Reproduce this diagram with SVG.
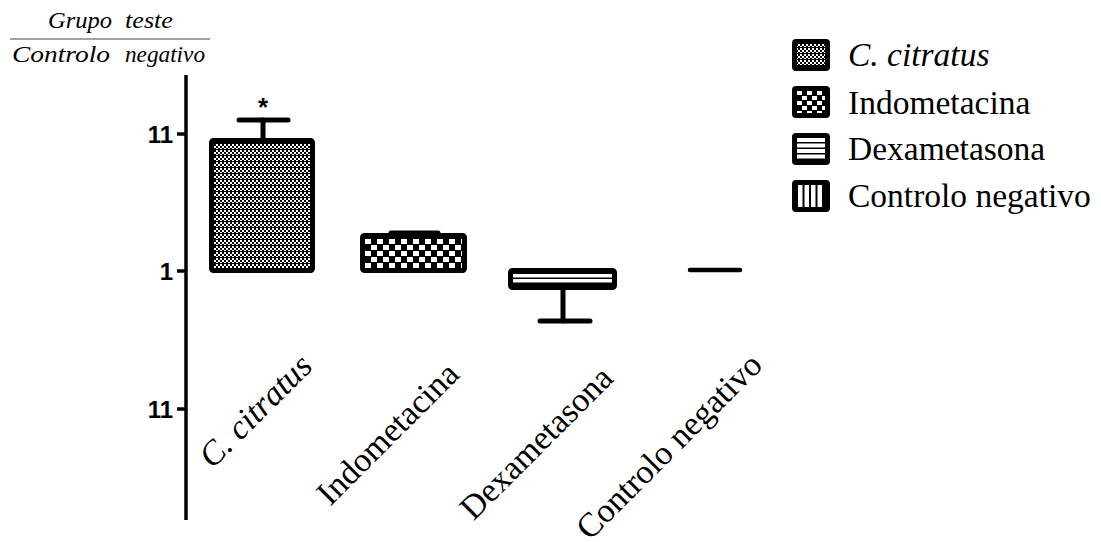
<svg xmlns="http://www.w3.org/2000/svg" width="1101" height="542" viewBox="0 0 1101 542">
  <style>
    .serif { font-family: "Liberation Serif", "Times New Roman", serif; fill: #000; }
    .it { font-style: italic; }
    .hd { font-size: 23px; }
    .tick { font-family: "Liberation Sans", Arial, sans-serif; font-weight: bold; font-size: 24px; text-anchor: end; fill: #000; }
    .leg { font-size: 33.5px; }
    .xl { font-size: 34px; text-anchor: end; }
    .bar { stroke: #000; stroke-width: 5; stroke-linejoin: round; }
    .err { stroke: #000; stroke-width: 5; stroke-linecap: round; fill: none; }
    .axis { stroke: #000; stroke-width: 3.5; fill: none; }
  </style>
  <defs>
    <pattern id="pFine" width="4" height="6" patternUnits="userSpaceOnUse">
      <rect width="4" height="6" fill="#000"/>
      <rect x="0" y="0" width="2" height="2" fill="#fff"/>
      <rect x="2" y="2" width="2" height="2" fill="#fff"/>
      <rect x="0" y="4" width="2" height="1" fill="#fff"/>
    </pattern>
    <pattern id="pCheck" x="365" y="238" width="12" height="12" patternUnits="userSpaceOnUse">
      <rect width="12" height="12" fill="#000"/>
      <rect x="0" y="1" width="6" height="5" fill="#fff"/>
      <rect x="6" y="7" width="6" height="5" fill="#fff"/>
    </pattern>
    <pattern id="pCheckL" x="797" y="91" width="10" height="10" patternUnits="userSpaceOnUse">
      <rect width="10" height="10" fill="#000"/>
      <rect x="0" y="0" width="5" height="4" fill="#fff"/>
      <rect x="5" y="5" width="5" height="4" fill="#fff"/>
    </pattern>
  </defs>

  <!-- header -->
  <g id="header">
    <text class="serif it hd" y="28"><tspan x="48" textLength="64" lengthAdjust="spacingAndGlyphs">Grupo</tspan> <tspan x="125" textLength="48" lengthAdjust="spacingAndGlyphs">teste</tspan></text>
    <line x1="10" y1="39" x2="210" y2="39" stroke="#444" stroke-width="1.2"/>
    <text class="serif it hd" y="62"><tspan x="12" textLength="98" lengthAdjust="spacingAndGlyphs">Controlo</tspan> <tspan x="125" textLength="80" lengthAdjust="spacingAndGlyphs">negativo</tspan></text>
  </g>

  <!-- axis -->
  <g id="axis">
    <line class="axis" x1="186" y1="75" x2="186" y2="520"/>
    <line class="axis" x1="177" y1="134" x2="186" y2="134"/>
    <line class="axis" x1="177" y1="271" x2="186" y2="271"/>
    <line class="axis" x1="177" y1="409" x2="186" y2="409"/>
    <text class="tick" x="173" y="143">11</text>
    <text class="tick" x="173" y="280">1</text>
    <text class="tick" x="173" y="418">11</text>
  </g>

  <!-- bars -->
  <g id="bar-ccitratus">
    <line class="err" x1="263" y1="140" x2="263" y2="120"/>
    <line class="err" x1="239" y1="120" x2="288" y2="120"/>
    <rect class="bar" x="211.5" y="140.5" width="101" height="130" rx="2" fill="url(#pFine)"/>
    <text x="263" y="116" font-family="Liberation Sans, Arial, sans-serif" font-weight="bold" font-size="26" text-anchor="middle">*</text>
  </g>
  <g id="bar-indometacina">
    <line class="err" x1="391" y1="233" x2="438" y2="233"/>
    <rect class="bar" x="362.5" y="235.5" width="102" height="35" rx="2" fill="url(#pCheck)"/>
  </g>
  <g id="bar-dexametasona">
    <line class="err" x1="563" y1="288" x2="563" y2="321"/>
    <line class="err" x1="540" y1="321" x2="590" y2="321"/>
    <rect class="bar" x="510.5" y="270.5" width="104" height="17" rx="2" fill="#000"/>
    <rect x="513" y="274" width="99" height="3.5" fill="#fff"/>
    <rect x="513" y="279" width="99" height="3.5" fill="#fff"/>
  </g>
  <g id="bar-controlo">
    <line x1="690" y1="270" x2="740" y2="270" stroke="#000" stroke-width="4.5" stroke-linecap="round"/>
  </g>

  <!-- x labels -->
  <g id="xlabels">
    <text class="serif xl it" transform="translate(314,368) rotate(-45)">C. citratus</text>
    <text class="serif xl" transform="translate(461,376) rotate(-45)">Indometacina</text>
    <text class="serif xl" transform="translate(615,380) rotate(-45)">Dexametasona</text>
    <text class="serif xl" transform="translate(764,367) rotate(-45)">Controlo negativo</text>
  </g>

  <!-- legend -->
  <g id="legend-ccitratus">
    <rect x="792" y="39" width="38" height="32" rx="4" fill="#000"/>
    <rect x="797" y="44" width="28" height="22" fill="url(#pFine)"/>
    <text class="serif leg it" x="848" y="66">C. citratus</text>
  </g>
  <g id="legend-indometacina">
    <rect x="792" y="86" width="38" height="32" rx="4" fill="#000"/>
    <rect x="797" y="91" width="28" height="22" fill="url(#pCheckL)"/>
    <text class="serif leg" x="848" y="114">Indometacina</text>
  </g>
  <g id="legend-dexametasona">
    <rect x="792" y="133" width="38" height="32" rx="4" fill="#000"/>
    <rect x="797" y="138" width="28" height="4" fill="#fff"/>
    <rect x="797" y="143.5" width="28" height="4" fill="#fff"/>
    <rect x="797" y="149" width="28" height="4" fill="#fff"/>
    <rect x="797" y="154.5" width="28" height="4" fill="#fff"/>
    <text class="serif leg" x="848" y="160">Dexametasona</text>
  </g>
  <g id="legend-controlo">
    <rect x="792" y="180" width="38" height="32" rx="4" fill="#000"/>
    <rect x="798" y="185" width="4.5" height="22" fill="#fff"/>
    <rect x="804.5" y="185" width="4.5" height="22" fill="#fff"/>
    <rect x="811" y="185" width="4.5" height="22" fill="#fff"/>
    <rect x="817.5" y="185" width="4.5" height="22" fill="#fff"/>
    <text class="serif leg" x="848" y="207">Controlo negativo</text>
  </g>
</svg>
